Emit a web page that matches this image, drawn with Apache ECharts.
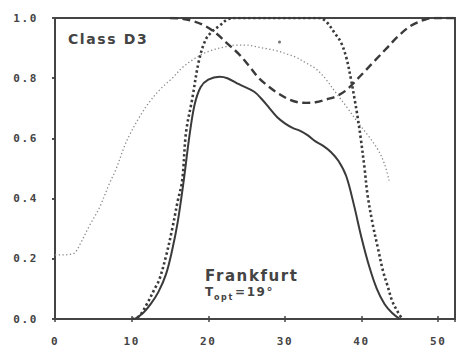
<!DOCTYPE html>
<html>
<head>
<meta charset="utf-8">
<script src="https://cdn.jsdelivr.net/npm/echarts@6/dist/echarts.min.js"></script>
<style>
  html, body { margin: 0; padding: 0; background: #fff; }
  #chart { width: 458px; height: 348px; }
  /* plotter-style wide lettering */
  #chart text { letter-spacing: 1.6px; }
</style>
</head>
<body>
<div id="chart"></div>
<script>
// Axis ticks
const xTickValues = [0, 10, 20, 30, 40, 50];
const yTickLabels = ['0.0', '0.2', '0.4', '0.6', '0.8', '1.0'];

// Solid curve
const solidX = [10.4, 11.5, 12.5, 13.5, 14.5, 15.3, 16.0, 16.8, 17.5, 18.2, 19.0, 20.0, 21.5, 22.5, 24.0, 26.0, 27.0, 28.0, 29.0, 30.0, 31.0, 32.0, 33.0, 34.0, 35.0, 36.0, 37.0, 38.0, 39.0, 40.0, 41.0, 42.0, 43.0, 44.0, 45.0];
const solidY = [0.0, 0.02, 0.05, 0.09, 0.15, 0.23, 0.32, 0.46, 0.60, 0.71, 0.77, 0.795, 0.805, 0.80, 0.78, 0.755, 0.73, 0.70, 0.67, 0.65, 0.635, 0.625, 0.61, 0.59, 0.575, 0.555, 0.525, 0.475, 0.38, 0.27, 0.175, 0.10, 0.05, 0.02, 0.0];

// Heavy dotted curve
const dotX = [10.1, 11.0, 12.0, 13.0, 13.6, 14.5, 15.3, 16.0, 16.6, 17.1, 17.9, 18.8, 19.7, 20.5, 21.5, 22.5, 23.5, 26.0, 30.0, 33.0, 34.5, 35.5, 36.5, 37.3, 38.0, 38.6, 39.1, 39.5, 39.9, 40.4, 40.8, 41.5, 42.1, 42.8, 43.4, 44.0, 44.7, 45.3];
const dotY = [0.0, 0.01, 0.05, 0.10, 0.13, 0.21, 0.30, 0.39, 0.46, 0.62, 0.73, 0.86, 0.93, 0.955, 0.975, 0.995, 1.0, 1.0, 1.0, 1.0, 1.0, 0.985, 0.95, 0.92, 0.87, 0.80, 0.73, 0.67, 0.60, 0.50, 0.41, 0.31, 0.24, 0.16, 0.11, 0.06, 0.025, 0.0];

// Dashed curve
const dashX = [15.0, 16.5, 18.0, 19.5, 21.0, 22.5, 24.0, 25.5, 26.6, 28.0, 29.1, 30.5, 31.7, 32.8, 34.0, 35.5, 36.7, 38.0, 39.2, 40.5, 41.8, 43.3, 44.8, 46.5, 48.3, 49.5, 51.0, 52.2];
const dashY = [1.0, 0.998, 0.99, 0.975, 0.95, 0.915, 0.88, 0.835, 0.80, 0.77, 0.75, 0.73, 0.72, 0.718, 0.72, 0.73, 0.74, 0.76, 0.79, 0.825, 0.86, 0.90, 0.94, 0.975, 0.995, 1.0, 1.0, 1.0];

// Fine dotted curve
const fineX = [0.0, 1.0, 2.0, 2.6, 3.2, 4.5, 5.8, 7.1, 8.0, 9.0, 9.7, 11.0, 12.3, 13.8, 15.3, 16.6, 17.9, 19.2, 20.5, 22.0, 23.6, 25.0, 26.2, 27.6, 29.1, 30.3, 31.4, 32.8, 34.1, 35.4, 36.7, 38.2, 39.6, 41.0, 42.2, 43.0, 43.6];
const fineY = [0.213, 0.213, 0.215, 0.22, 0.245, 0.31, 0.37, 0.45, 0.50, 0.57, 0.61, 0.67, 0.72, 0.765, 0.80, 0.835, 0.86, 0.88, 0.893, 0.903, 0.91, 0.91, 0.905, 0.898, 0.89, 0.88, 0.87, 0.85, 0.83, 0.795, 0.75, 0.70, 0.65, 0.605, 0.56, 0.515, 0.46];

// Isolated point
const strayX = [29.3];
const strayY = [0.92];

const pairs = (xs, ys) => xs.map((x, i) => [x, ys[i]]);

const ink = '#3a3a3a';
const labelFont = { color: '#444', fontFamily: 'DejaVu Sans Mono', fontWeight: 'bold', fontSize: 11 };
const tickStyle = { color: '#444', width: 1.5 };

const chart = echarts.init(document.getElementById('chart'), null, { renderer: 'svg' });

chart.setOption({
  animation: false,
  backgroundColor: '#fff',
  grid: {
    left: 55, right: 1, top: 18, bottom: 29,
    show: true, borderColor: '#444', borderWidth: 2, backgroundColor: 'transparent'
  },
  xAxis: [{
    type: 'value', min: 0, max: 52.2, interval: 10,
    axisLine: { show: false },
    axisTick: { show: true, inside: true, length: 3, lineStyle: tickStyle },
    splitLine: { show: false },
    axisLabel: Object.assign({ margin: 17, formatter: v => xTickValues.includes(v) ? String(v) : '' }, labelFont)
  }, {
    type: 'value', position: 'top', min: 0, max: 52.2, interval: 10,
    axisLine: { show: false },
    axisTick: { show: true, inside: true, length: 3, lineStyle: tickStyle },
    splitLine: { show: false },
    axisLabel: { show: false }
  }],
  yAxis: [{
    type: 'value', min: 0, max: 1, interval: 0.2,
    axisLine: { show: false },
    axisTick: { show: true, inside: false, length: 3, lineStyle: tickStyle },
    splitLine: { show: false },
    axisLabel: Object.assign({
      margin: 17,
      formatter: v => yTickLabels[Math.round(v / 0.2)]
    }, labelFont)
  }, {
    type: 'value', position: 'right', min: 0, max: 1, interval: 0.2,
    axisLine: { show: false },
    axisTick: { show: true, inside: true, length: 3, lineStyle: tickStyle },
    splitLine: { show: false },
    axisLabel: { show: false }
  }],
  series: [{
    type: 'line', name: 'fine', data: pairs(fineX, fineY),
    showSymbol: false, smooth: 0.35,
    lineStyle: { color: '#8a8a8a', width: 1.3, type: [1.3, 2.4] }, z: 2
  }, {
    type: 'line', name: 'dashed', data: pairs(dashX, dashY),
    showSymbol: false, smooth: 0.35,
    lineStyle: { color: ink, width: 2.4, type: [8, 4.5] }, z: 3
  }, {
    type: 'line', name: 'dotted', data: pairs(dotX, dotY),
    showSymbol: false, smooth: 0.35,
    lineStyle: { color: ink, width: 2.6, type: [2.4, 2.6] }, z: 4
  }, {
    type: 'line', name: 'solid', data: pairs(solidX, solidY),
    showSymbol: false, smooth: 0.35,
    lineStyle: { color: ink, width: 2 }, z: 5
  }, {
    type: 'scatter', name: 'point', data: pairs(strayX, strayY),
    symbolSize: 3, itemStyle: { color: '#555' }, z: 5
  }],
  graphic: [{
    type: 'text', left: 68, top: 32,
    style: { text: 'Class D3', fill: '#444', font: 'bold 14px "DejaVu Sans"' }
  }, {
    type: 'text', left: 205, top: 268,
    style: { text: 'Frankfurt', fill: '#444', font: 'bold 15px "DejaVu Sans"' }
  }, {
    type: 'text', left: 205, top: 286,
    style: {
      text: '{t|T}{s|opt}{e|=19°}',
      rich: {
        t: { fill: '#444', font: 'bold 12px "DejaVu Sans"', width: 9, verticalAlign: 'top' },
        s: { fill: '#444', font: 'bold 8px "DejaVu Sans"', width: 21, padding: [7, 0, 0, 0] },
        e: { fill: '#444', font: 'bold 12px "DejaVu Sans"', verticalAlign: 'top' }
      }
    }
  }]
});
</script>
</body>
</html>
